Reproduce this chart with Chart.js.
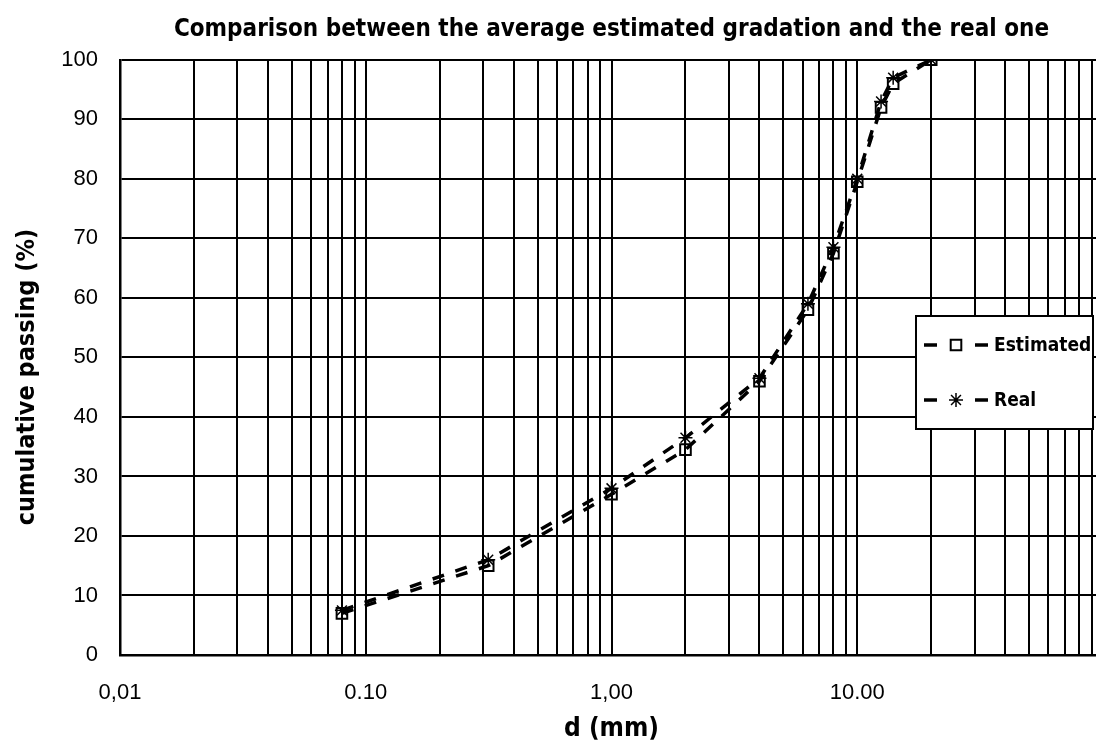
<!DOCTYPE html>
<html>
<head>
<meta charset="utf-8">
<script src="https://cdn.jsdelivr.net/npm/chart.js@4.4.1/dist/chart.umd.min.js"></script>
<style>
  html, body { margin: 0; padding: 0; background: #fff; overflow: hidden; }
  #wrap { width: 1128px; height: 749px; }
</style>
</head>
<body>
<div id="wrap"><canvas id="myCanvas" width="1128" height="749"></canvas></div>
<script>
// sieve sizes (mm) and cumulative passing (%)
const sieveSizes = [0.08, 0.315, 1, 2, 4, 6.3, 8, 10, 12.5, 14, 20];
const estimated = [7, 15, 27, 34.5, 46, 58, 67.5, 79.5, 92, 96, 100];
const real = [7.5, 16, 28, 36.5, 46.5, 59, 68.5, 80, 93, 97, 100];

const xTickValues = [0.01, 0.1, 1, 10];
const xTickLabels = ["0,01", "0.10", "1,00", "10.00"];
const decades = [0.01, 0.1, 1, 10];

const NARROW = "'Liberation Sans Narrow', 'DejaVu Sans Condensed', sans-serif";
const REGULAR = "'Liberation Sans', Arial, sans-serif";

// log grid: 1..9 in every decade
const gridValues = [];
decades.forEach((d) => {
    for (let m = 1; m < 10; m++) gridValues.push(+(m * d).toFixed(4));
});
gridValues.push(100);

const toPoints = (ys) => sieveSizes.map((x, i) => ({ x, y: ys[i] }));

// framed legend inside the plot, like the spreadsheet one
const boxLegend = {
    id: "boxLegend",
    afterDraw(chart) {
        const ctx = chart.ctx;
        const left = 916, top = 316, w = 177, h = 113;
        ctx.save();
        ctx.fillStyle = "#fff";
        ctx.fillRect(left, top, w, h);
        ctx.lineWidth = 2;
        ctx.strokeStyle = "#000";
        ctx.strokeRect(left, top, w, h);
        chart.data.datasets.forEach((ds, i) => {
            const y = top + 29 + i * 55;
            ctx.strokeStyle = ds.borderColor;
            ctx.lineWidth = ds.borderWidth;
            ctx.setLineDash([]);
            ctx.beginPath();
            ctx.moveTo(left + 8, y);
            ctx.lineTo(left + 21, y);
            ctx.moveTo(left + 59, y);
            ctx.lineTo(left + 72, y);
            ctx.stroke();
            ctx.fillStyle = "rgba(0,0,0,0)";
            ctx.lineWidth = ds.pointBorderWidth;
            Chart.helpers.drawPoint(ctx, {
                pointStyle: ds.pointStyle,
                radius: ds.pointRadius,
                rotation: 0,
                borderWidth: ds.pointBorderWidth,
            }, left + 40, y);
            ctx.fillStyle = "#000";
            ctx.font = "bold 19px " + NARROW;
            ctx.textBaseline = "middle";
            ctx.textAlign = "left";
            ctx.fillText(ds.label, left + 78, y + 1);
        });
        ctx.restore();
    },
};

new Chart(document.getElementById("myCanvas"), {
    type: "line",
    data: {
        datasets: [
            {
                label: "Estimated",
                data: toPoints(estimated),
                borderColor: "#000",
                borderWidth: 3.5,
                borderDash: [12, 12],
                pointStyle: "rect",
                pointRadius: 7.5,
                pointBorderWidth: 2,
                pointBorderColor: "#000",
                pointBackgroundColor: "rgba(0,0,0,0)",
                tension: 0,
            },
            {
                label: "Real",
                data: toPoints(real),
                borderColor: "#000",
                borderWidth: 3.5,
                borderDash: [12, 12],
                pointStyle: "star",
                pointRadius: 7,
                pointBorderWidth: 1.5,
                pointBorderColor: "#000",
                pointBackgroundColor: "rgba(0,0,0,0)",
                tension: 0,
            },
        ],
    },
    options: {
        responsive: false,
        animation: false,
        layout: { padding: { left: 0, right: 4, top: 0, bottom: 0 } },
        plugins: {
            legend: { display: false },
            tooltip: { enabled: false },
            title: {
                display: true,
                fullSize: false,
                text: "Comparison between the average estimated gradation and the real one",
                color: "#000",
                font: { family: NARROW, size: 24, weight: "bold" },
                padding: { top: 15, bottom: 16 },
            },
        },
        scales: {
            x: {
                type: "logarithmic",
                min: 0.01,
                max: 100,
                afterBuildTicks: (s) => {
                    s.ticks = gridValues.map((v) => ({ value: v }));
                },
                afterFit: (s) => {
                    s.height = 94;
                },
                ticks: {
                    autoSkip: false,
                    maxRotation: 0,
                    padding: 25,
                    color: "#000",
                    font: { family: REGULAR, size: 22 },
                    callback: (v) => {
                        const k = xTickValues.findIndex((t) => Math.abs(t - v) < 1e-9);
                        return k >= 0 ? xTickLabels[k] : "";
                    },
                },
                grid: { color: "#000", lineWidth: 2, drawTicks: false },
                border: { color: "#000", width: 2.5 },
                title: {
                    display: true,
                    text: "d (mm)",
                    color: "#000",
                    font: { family: NARROW, size: 26, weight: "bold" },
                    padding: { top: 0, bottom: 4 },
                },
            },
            y: {
                min: 0,
                max: 100,
                afterFit: (s) => {
                    s.width = 120;
                },
                ticks: {
                    stepSize: 10,
                    padding: 22,
                    color: "#000",
                    font: { family: REGULAR, size: 22 },
                },
                grid: { color: "#000", lineWidth: 2, drawTicks: false },
                border: { color: "#000", width: 2.5 },
                title: {
                    display: true,
                    // trailing spaces push the label a little below the axis middle
                    text: "cumulative passing (%)\u00a0\u00a0\u00a0\u00a0\u00a0",
                    color: "#000",
                    font: { family: NARROW, size: 25, weight: "bold" },
                    padding: { top: 12, bottom: 0 },
                },
            },
        },
    },
    plugins: [boxLegend],
});
</script>
</body>
</html>
